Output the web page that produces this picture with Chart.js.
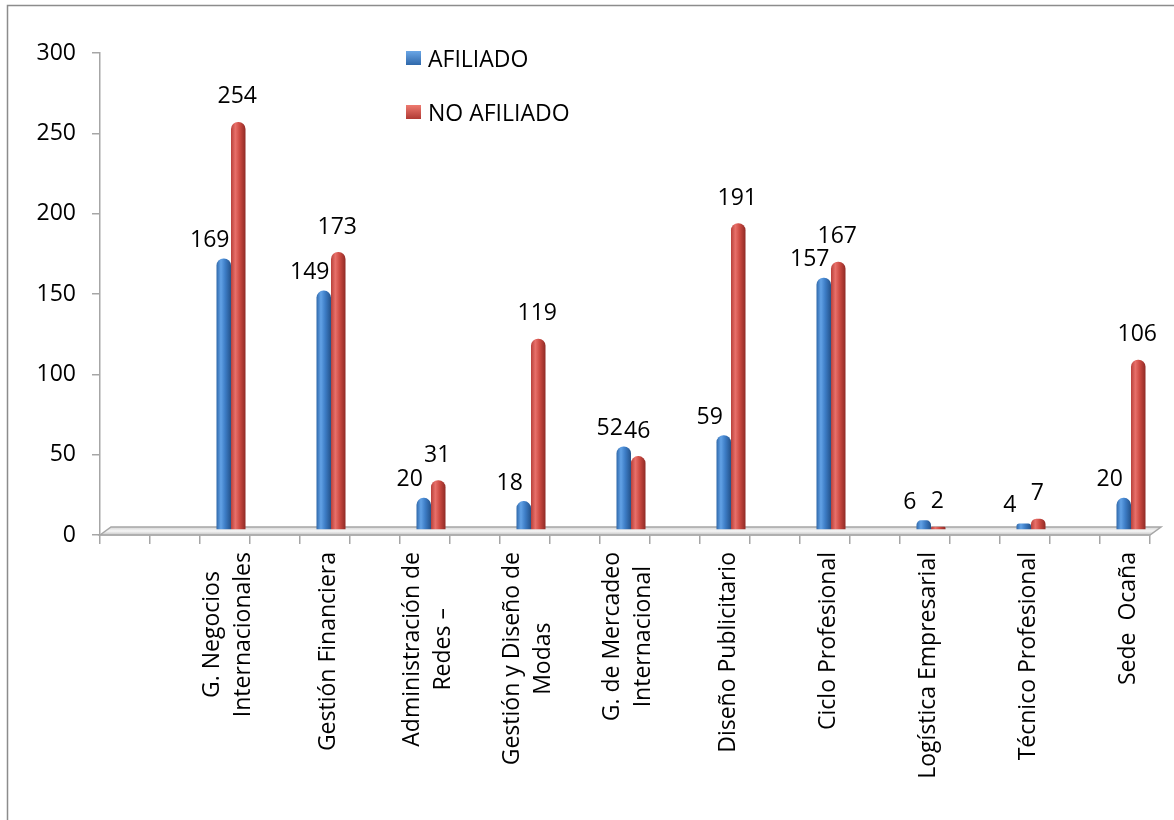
<!DOCTYPE html>
<html>
<head>
<meta charset="utf-8">
<script src="https://cdn.jsdelivr.net/npm/chart.js@4.4.1/dist/chart.umd.min.js"></script>
<style>
  html, body { margin: 0; padding: 0; background: #fff; overflow: hidden; }
  #wrap { position: relative; width: 1174px; height: 820px; }
</style>
</head>
<body>
<div id="wrap"><canvas id="chart" width="1174" height="820"></canvas></div>
<script>
// datos del gráfico
const categories = [
  ["G. Negocios", "Internacionales"],
  "Gestión Financiera",
  ["Administración de", "Redes –"],
  ["Gestión y Diseño de", "Modas"],
  ["G. de Mercadeo", "Internacional"],
  "Diseño Publicitario",
  "Ciclo Profesional",
  "Logística Empresarial",
  "Técnico Profesional",
  "Sede  Ocaña"
];
const afiliado = [169, 149, 20, 18, 52, 59, 157, 6, 4, 20];
const noAfiliado = [254, 173, 31, 119, 46, 191, 167, 2, 7, 106];
const yTicks = [0, 50, 100, 150, 200, 250, 300];

// en el original hay dos huecos al inicio y uno entre cada categoría
function spread(arr, blank) {
  const out = [blank, blank];
  arr.forEach((v, i) => {
    out.push(v);
    if (i < arr.length - 1) out.push(blank);
  });
  return out;
}

const slotLabels = spread(categories, "");
const slotAfiliado = spread(afiliado, null);
const slotNoAfiliado = spread(noAfiliado, null);

const FONT = "'Open Sans', sans-serif";
const DEPTH_X = 6, DEPTH_Y = -5;

// piso 3D y degradado tipo cilindro para cada barra
const cylinderPlugin = {
  id: "cylinder",
  beforeDatasetsDraw(chart) {
    const ctx = chart.ctx;
    const x = chart.scales.x;
    const y0 = chart.scales.y.getPixelForValue(0);
    ctx.save();
    ctx.beginPath();
    ctx.moveTo(x.left, y0);
    ctx.lineTo(x.left + 11, y0 - 8);
    ctx.lineTo(x.right + 11, y0 - 8);
    ctx.lineTo(x.right, y0);
    ctx.closePath();
    const g = ctx.createLinearGradient(0, y0 - 8, 0, y0);
    g.addColorStop(0, "#d4d4d4");
    g.addColorStop(0.5, "#f6f6f6");
    g.addColorStop(1, "#c4c4c4");
    ctx.fillStyle = g;
    ctx.fill();
    ctx.strokeStyle = "#a6a6a6";
    ctx.lineWidth = 1.5;
    ctx.stroke();
    ctx.restore();

    const palettes = [
      ["#2f68aa", "#62a2e6", "#3d7dc6", "#24528a"],
      ["#b8403a", "#e8706a", "#cc4a42", "#8f2a25"]
    ];
    chart.data.datasets.forEach((ds, di) => {
      const meta = chart.getDatasetMeta(di);
      const p = palettes[di];
      meta.data.forEach(bar => {
        if (bar.skip) return;
        const w = bar.width;
        const grad = ctx.createLinearGradient(bar.x - w / 2, 0, bar.x + w / 2, 0);
        grad.addColorStop(0, p[0]);
        grad.addColorStop(0.3, p[1]);
        grad.addColorStop(0.6, p[2]);
        grad.addColorStop(1, p[3]);
        bar.options = Object.assign({}, bar.options, { backgroundColor: grad });
      });
    });
    // desplazamiento de profundidad
    ctx.save();
    ctx.translate(DEPTH_X, DEPTH_Y);
  },
  afterDatasetsDraw(chart) {
    chart.ctx.restore();
  }
};

// etiquetas de valor, etiquetas del eje x, leyenda y marco
const decoPlugin = {
  id: "deco",
  beforeDraw(chart) {
    const ctx = chart.ctx;
    ctx.save();
    ctx.strokeStyle = "#8c8c8c";
    ctx.lineWidth = 1.5;
    ctx.strokeRect(7.5, 5.5, 1300, 1000);
    ctx.restore();
  },
  afterDatasetsDraw(chart) {
    const ctx = chart.ctx;
    ctx.save();
    ctx.font = "23px " + FONT;
    ctx.fillStyle = "#000";
    ctx.textAlign = "center";
    ctx.textBaseline = "middle";
    chart.data.datasets.forEach((ds, di) => {
      const meta = chart.getDatasetMeta(di);
      meta.data.forEach((bar, i) => {
        const v = ds.data[i];
        if (v === null) return;
        const dx = di === 0 ? -14 : -1;
        const dy = di === 0 ? -18 : -25;
        ctx.fillText(String(v), bar.x + DEPTH_X + dx, bar.y + DEPTH_Y + dy);
      });
    });

    // etiquetas de categoría giradas, líneas centradas
    const xs = chart.scales.x;
    const top = xs.top + 17;
    const lineH = 31;
    ctx.font = "23px " + FONT;
    chart.data.labels.forEach((lab, i) => {
      if (!lab || lab.length === 0) return;
      const lines = Array.isArray(lab) ? lab : [lab];
      const maxW = Math.max(...lines.map(l => ctx.measureText(l).width));
      const cx = xs.getPixelForValue(i) + 3;
      ctx.save();
      ctx.translate(cx, top);
      ctx.rotate(-Math.PI / 2);
      ctx.textAlign = "center";
      lines.forEach((l, n) => {
        const off = (n - (lines.length - 1) / 2) * lineH;
        ctx.fillText(l, -maxW / 2, off);
      });
      ctx.restore();
    });

    // leyenda
    const cols = [["#6aa6e6", "#2f68aa"], ["#ee7a70", "#b03a34"]];
    const lx = 406;
    chart.data.datasets.forEach((ds, i) => {
      const ly = 58 + i * 54;
      const gr = ctx.createLinearGradient(0, ly - 7, 0, ly + 7);
      gr.addColorStop(0, cols[i][0]);
      gr.addColorStop(1, cols[i][1]);
      ctx.fillStyle = gr;
      ctx.fillRect(lx, ly - 7, 15, 14);
      ctx.fillStyle = "#000";
      ctx.textAlign = "left";
      ctx.font = "23px " + FONT;
      ctx.fillText(ds.label, lx + 22, ly + 2);
    });
    ctx.restore();
  }
};

new Chart(document.getElementById("chart"), {
  type: "bar",
  data: {
    labels: slotLabels,
    datasets: [
      {
        label: "AFILIADO",
        data: slotAfiliado,
        backgroundColor: "#4f81bd",
        borderRadius: { topLeft: 7, topRight: 7 },
        borderSkipped: "bottom",
        barPercentage: 1,
        categoryPercentage: 0.58
      },
      {
        label: "NO AFILIADO",
        data: slotNoAfiliado,
        backgroundColor: "#c0504d",
        borderRadius: { topLeft: 7, topRight: 7 },
        borderSkipped: "bottom",
        barPercentage: 1,
        categoryPercentage: 0.58
      }
    ]
  },
  options: {
    responsive: false,
    animation: false,
    layout: { padding: { top: 53, right: 24, left: 0, bottom: 0 } },
    plugins: {
      legend: { display: false },
      tooltip: { enabled: false }
    },
    scales: {
      x: {
        grid: {
          offset: true,
          drawOnChartArea: false,
          color: "#a6a6a6",
          tickLength: 9,
          lineWidth: 1.5
        },
        border: { color: "#a6a6a6", width: 1.5 },
        ticks: { display: false, autoSkip: false },
        afterFit(scale) { scale.height = 285; }
      },
      y: {
        min: 0,
        max: 300,
        afterBuildTicks(scale) { scale.ticks = yTicks.map(v => ({ value: v })); },
        grid: {
          drawOnChartArea: false,
          color: "#a6a6a6",
          tickLength: 8,
          lineWidth: 1.5
        },
        border: { color: "#a6a6a6", width: 1.5 },
        ticks: {
          color: "#000",
          font: { family: FONT, size: 23 },
          padding: 16
        },
        afterFit(scale) { scale.width = 100; }
      }
    }
  },
  plugins: [cylinderPlugin, decoPlugin]
});
</script>
</body>
</html>
